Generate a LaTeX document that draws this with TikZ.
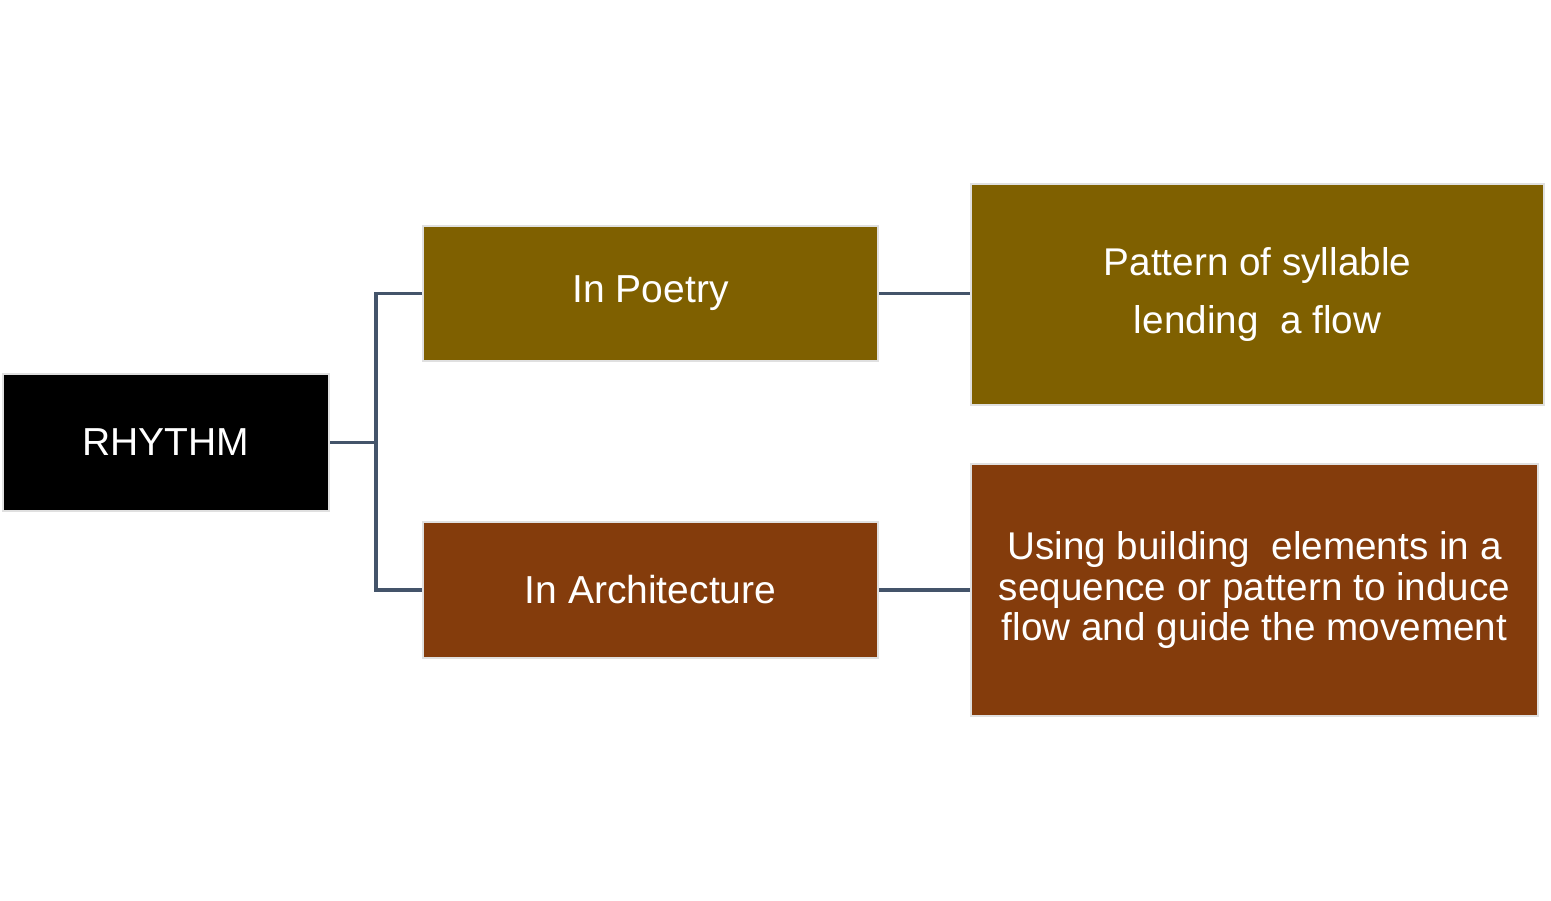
\documentclass[tikz,border=0pt]{standalone}
\usepackage{fontspec}
\setmainfont{Liberation Sans}
\definecolor{olive}{HTML}{7F6000}
\definecolor{rust}{HTML}{843C0C}
\definecolor{slate}{HTML}{44546A}
\tikzset{
  box/.style={draw=black!12, line width=0.6pt, text=white, align=center,
    inner sep=0pt, font=\fontsize{11.1}{13}\selectfont},
  link/.style={draw=slate, line width=0.9pt}
}
\begin{document}
\begin{tikzpicture}
    \useasboundingbox (0,0) rectangle (15.51,-9);
      % root
      \node[box, fill=black, minimum width=3.26cm, minimum height=1.37cm] at (1.66,-4.425) (R) {RHYTHM};
      % first line
      \node[box, fill=olive, minimum width=4.55cm, minimum height=1.35cm] at (6.505,-2.935) (P) {In Poetry};
      \node[box, fill=olive, minimum width=5.73cm, minimum height=2.21cm,
        font=\fontsize{11}{16.3}\selectfont] at (12.575,-2.945) (P1) {Pattern of syllable\\lending~ a flow};
      % second line
      \node[box, fill=rust, minimum width=4.55cm, minimum height=1.36cm] at (6.505,-5.90) (A) {In Architecture};
      \node[box, fill=rust, minimum width=5.67cm, minimum height=2.52cm,
        font=\fontsize{11}{11.4}\selectfont] at (12.545,-5.90) (A1) {Using building~ elements in a\\sequence or pattern to induce\\flow and guide the movement};
      % connectors
      \coordinate (J) at (3.76,-4.425);
      \draw[link] (R.east) -- (J);
      \draw[link] (P.west) -| (J) |- (A.west);
      \draw[link] (P.east) -- (P.east -| P1.west);
      \draw[link] (A.east) -- (A.east -| A1.west);
    \end{tikzpicture}
\end{document}
